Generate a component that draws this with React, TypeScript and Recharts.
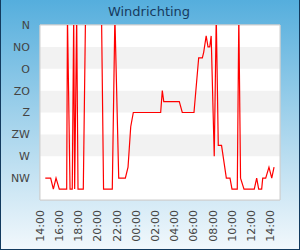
import { LineChart, Line, XAxis, YAxis, CartesianGrid, ReferenceArea } from "recharts";

// hours since 14:00
const hours = [
  0.55, 1.11, 1.39, 1.67, 2.01, 2.78, 2.86, 3.13, 3.36, 3.51, 3.61, 3.82, 3.96,
  4.51, 4.74, 6.41, 6.62, 7.53, 7.8, 8.2, 8.89, 9.17, 9.45, 9.72, 12.57, 12.74,
  12.89, 14.51, 14.82, 16.04, 16.53, 16.91, 17.05, 17.31, 17.5, 17.68, 17.83,
  18.15, 18.36, 18.57, 18.91, 19.41, 19.79, 20.0, 20.55, 20.71, 20.89, 21.25,
  22.32, 22.57, 22.78, 23.09, 23.2, 23.51, 23.85, 24.14, 24.38,
];
// direction on the NW..N scale (1..8), above 8 runs past N
const richting = [
  1, 1, 0.5, 1, 0.5, 0.5, 8.4, 0.5, 0.5, 8.4, 0.5, 8.4, 0.5,
  0.5, 8.4, 8.4, 0.5, 0.5, 8.4, 1, 1, 1.5, 3.35, 4, 4, 5,
  4.5, 4.5, 4, 4, 6.5, 6.5, 6.75, 7.5, 7, 7, 7.5,
  2, 8.4, 2.5, 2.5, 1, 1, 0.5, 0.5, 8.4, 1, 0.5,
  0.5, 1, 0.5, 0.5, 1, 1, 1.5, 1, 1.5,
];
const windLabels = ["NW", "W", "ZW", "Z", "ZO", "O", "NO", "N"];
const timeLabels = [
  "14:00", "16:00", "18:00", "20:00", "22:00", "00:00", "02:00",
  "04:00", "06:00", "08:00", "10:00", "12:00", "14:00",
];
const grayBands = [2, 4, 6];

const data = hours.map((h, i) => ({ h, v: richting[i] }));
const font = "'DejaVu Sans', sans-serif";

function TimeTick({ x, y, index }: any) {
  return (
    <text
      x={x}
      y={y}
      transform={`rotate(-90 ${x} ${y})`}
      textAnchor="end"
      dy="0.35em"
      fill="#444"
      fontSize={11}
      fontFamily={font}
    >
      {timeLabels[index]}
    </text>
  );
}

export default function App() {
  return (
    <div
      style={{
        position: "relative",
        width: 300,
        height: 250,
        background: "linear-gradient(to bottom, #55aedd 0%, #a6d4ec 50%, #f2f8fc 100%)",
        fontFamily: font,
      }}
    >
      <style>{`body{margin:0}`}</style>
      <div
        style={{
          position: "absolute",
          top: 4,
          width: 298,
          textAlign: "center",
          fontSize: 13,
          color: "#173a5e",
        }}
      >
        Windrichting
      </div>
      <LineChart
        width={300}
        height={250}
        data={data}
        margin={{ top: 25, right: 20, left: 0, bottom: 0 }}
      >
        <ReferenceArea x1={0} x2={25} y1={0} y2={8} fill="#fff" fillOpacity={1} stroke="none" />
        {grayBands.map((b) => (
          <ReferenceArea key={b} x1={0} x2={25} y1={b} y2={b + 1} fill="#f2f2f2" fillOpacity={1} stroke="none" />
        ))}
        <CartesianGrid stroke="#cfcfcf" />
        <ReferenceArea x1={0} x2={25} y1={0} y2={8} fill="none" stroke="#cfcfcf" />
        <XAxis
          dataKey="h"
          type="number"
          domain={[0, 25]}
          ticks={[0, 2, 4, 6, 8, 10, 12, 14, 16, 18, 20, 22, 24]}
          height={50}
          tickLine={false}
          axisLine={false}
          tickSize={8}
          tickMargin={2}
          tick={<TimeTick />}
          interval={0}
        />
        <YAxis
          type="number"
          domain={[0, 8]}
          ticks={[1, 2, 3, 4, 5, 6, 7, 8]}
          allowDataOverflow
          width={40}
          tickLine={false}
          axisLine={false}
          tickSize={8}
          tickMargin={2}
          interval={0}
          tick={{ fill: "#444", fontSize: 11, fontFamily: font }}
          tickFormatter={(v) => windLabels[v - 1]}
        />
        <Line
          type="linear"
          dataKey="v"
          stroke="#ff0000"
          strokeWidth={1.2}
          dot={false}
          isAnimationActive={false}
        />
      </LineChart>
      <div
        style={{
          position: "absolute",
          inset: 0,
          borderLeft: "1px solid #123a5e",
          borderRight: "1px solid #123a5e",
          borderBottom: "1px solid #123a5e",
          pointerEvents: "none",
        }}
      />
    </div>
  );
}
